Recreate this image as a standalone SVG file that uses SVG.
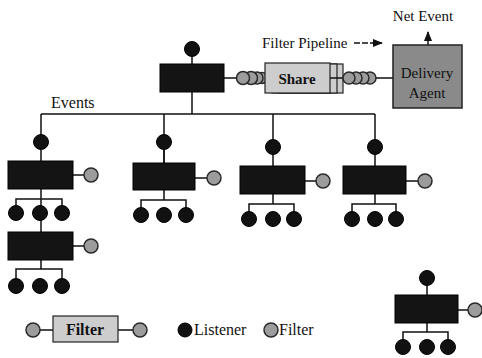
<svg xmlns="http://www.w3.org/2000/svg" width="482" height="358" viewBox="0 0 482 358">
<style>
.ln{stroke:#111;stroke-width:1.5;fill:none}
.blk{fill:#141414;stroke:#000;stroke-width:1}
.lis{fill:#111;stroke:#000;stroke-width:1}
.fil{fill:#9c9c9c;stroke:#2a2a2a;stroke-width:1.5}
.lt{fill:#cdcdcd;stroke:#222;stroke-width:1.2}
.t{font-family:"Liberation Serif","Times New Roman",serif;fill:#111}
</style>
<defs>
<marker id="ah" viewBox="0 0 10 10" refX="9" refY="5" markerWidth="7" markerHeight="7" orient="auto-start-reverse">
<path d="M0,1 L10,5 L0,9 Z" fill="#111"/>
</marker>
</defs>
<rect width="482" height="358" fill="#fff"/>
<g id="connectors">
<path class="ln" d="M192,49 V64 M192,92 V114 M41,114 H375 M41,114 V161 M164,114 V163 M273,114 V166 M375,114 V166"/>
<path class="ln" d="M224,78 H240 M330,78 H345 M374,78 H393"/>
<path class="ln" d="M428,45 V32" marker-end="url(#ah)"/>
<path class="ln" d="M354,43 H382" stroke-dasharray="6,2" marker-end="url(#ah)"/>
<path class="ln" d="M41,189 V199 M16,213 V199 H62 V213 M41,199 V232 M73,175 H84"/>
<path class="ln" d="M41,260 V269 M16,286 V269 H62 V286 M73,246 H84"/>
<path class="ln" d="M164,142 V163 M164,190 V200 M141,215 V200 H186 V215 M195,178 H207"/>
<path class="ln" d="M273,194 V204 M249,219 V204 H294 V219 M305,181 H316"/>
<path class="ln" d="M375,194 V204 M352,219 V204 H396 V219 M406,181 H418"/>
<path class="ln" d="M427,278 V295 M427,323 V332 M403,347 V332 H448 V347 M458,310 H468"/>
<path class="ln" d="M33,330 H53 M118,330 H133"/>
</g>
<g id="top-node">
<circle class="lis" cx="192" cy="49" r="7.5"/>
<rect class="blk" x="160" y="64" width="64" height="28"/>
</g>
<g id="pipeline">
<circle class="fil" cx="262" cy="78" r="5.5"/>
<circle class="fil" cx="257" cy="78" r="6"/>
<circle class="fil" cx="251" cy="78" r="6.5"/>
<circle class="fil" cx="243" cy="78" r="6.5"/>
<rect class="lt" x="278" y="64" width="65" height="29"/>
<rect class="lt" x="272" y="64" width="65" height="29"/>
<rect class="lt" x="265" y="63" width="65" height="30"/>
<line class="ln" x1="330" y1="78" x2="343" y2="78"/>
<text class="t" x="297" y="84" font-size="15" font-weight="bold" text-anchor="middle">Share</text>
<circle class="fil" cx="370" cy="78" r="6"/>
<circle class="fil" cx="363" cy="78" r="6"/>
<circle class="fil" cx="356" cy="78" r="6"/>
<circle class="fil" cx="349" cy="78" r="6"/>
</g>
<g id="delivery-agent">
<rect x="393" y="45" width="69" height="63" fill="#8a8a8a" stroke="#222" stroke-width="1.5"/>
<text class="t" x="427" y="78" font-size="15" text-anchor="middle" fill="#1a1a1a">Delivery</text>
<text class="t" x="427" y="98" font-size="15" text-anchor="middle" fill="#1a1a1a">Agent</text>
</g>
<g id="labels">
<text class="t" x="423" y="21" font-size="15" text-anchor="middle">Net Event</text>
<text class="t" x="262" y="48" font-size="15">Filter Pipeline</text>
<text class="t" x="51" y="108" font-size="16">Events</text>
</g>
<g id="node-a">
<circle class="lis" cx="41" cy="142" r="7.5"/>
<rect class="blk" x="8" y="161" width="65" height="28"/>
<circle class="fil" cx="91" cy="175" r="7"/>
<circle class="lis" cx="16" cy="213" r="7.5"/>
<circle class="lis" cx="40" cy="213" r="7.5"/>
<circle class="lis" cx="62" cy="213" r="7.5"/>
</g>
<g id="node-a2">
<rect class="blk" x="8" y="232" width="65" height="28"/>
<circle class="fil" cx="91" cy="246" r="7"/>
<circle class="lis" cx="16" cy="286" r="7.5"/>
<circle class="lis" cx="40" cy="286" r="7.5"/>
<circle class="lis" cx="62" cy="286" r="7.5"/>
</g>
<g id="node-b">
<circle class="lis" cx="164" cy="142" r="7.5"/>
<rect class="blk" x="133" y="163" width="62" height="27"/>
<circle class="fil" cx="214" cy="178" r="7"/>
<circle class="lis" cx="141" cy="215" r="7.5"/>
<circle class="lis" cx="164" cy="215" r="7.5"/>
<circle class="lis" cx="186" cy="215" r="7.5"/>
</g>
<g id="node-c">
<circle class="lis" cx="273" cy="147" r="7.5"/>
<rect class="blk" x="240" y="166" width="65" height="28"/>
<circle class="fil" cx="323" cy="181" r="7"/>
<circle class="lis" cx="249" cy="219" r="7.5"/>
<circle class="lis" cx="273" cy="219" r="7.5"/>
<circle class="lis" cx="294" cy="219" r="7.5"/>
</g>
<g id="node-d">
<circle class="lis" cx="375" cy="147" r="7.5"/>
<rect class="blk" x="343" y="166" width="63" height="28"/>
<circle class="fil" cx="425" cy="181" r="7"/>
<circle class="lis" cx="352" cy="219" r="7.5"/>
<circle class="lis" cx="375" cy="219" r="7.5"/>
<circle class="lis" cx="396" cy="219" r="7.5"/>
</g>
<g id="node-e">
<circle class="lis" cx="427" cy="278" r="7.5"/>
<rect class="blk" x="395" y="295" width="63" height="28"/>
<circle class="fil" cx="475" cy="310" r="7"/>
<circle class="lis" cx="403" cy="347" r="7.5"/>
<circle class="lis" cx="427" cy="347" r="7.5"/>
<circle class="lis" cx="448" cy="347" r="7.5"/>
</g>
<g id="legend">
<circle class="fil" cx="33" cy="330" r="7"/>
<rect class="lt" x="53" y="316" width="65" height="26"/>
<text class="t" x="85" y="335" font-size="16" font-weight="bold" text-anchor="middle">Filter</text>
<circle class="fil" cx="140" cy="330" r="7"/>
<circle class="lis" cx="185" cy="330" r="7"/>
<text class="t" x="194" y="335" font-size="16">Listener</text>
<circle class="fil" cx="271" cy="330" r="7"/>
<text class="t" x="279" y="335" font-size="16">Filter</text>
</g>
</svg>
